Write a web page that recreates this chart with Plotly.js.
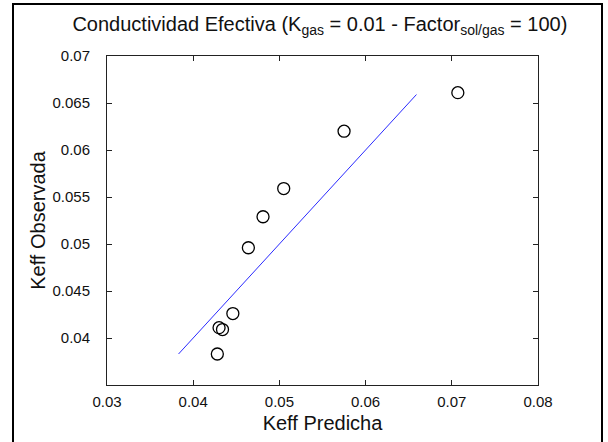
<!DOCTYPE html>
<html>
<head>
<meta charset="utf-8">
<script src="https://cdn.plot.ly/plotly-3.0.1.min.js"></script>
<style>
  html, body { margin: 0; padding: 0; background: #fff; overflow: hidden; }
  #chart { position: absolute; left: 0; top: 0; width: 608px; height: 442px; }
  #frame { position: absolute; left: 12px; top: 3px; width: 591px; height: 470px;
           border: 2px solid #000; box-sizing: border-box; pointer-events: none; }
</style>
</head>
<body>
<div id="chart"></div>
<div id="frame"></div>
<script>
// Data
const keffPredicha  = [0.0428, 0.0430, 0.0434, 0.0446, 0.0464, 0.0481, 0.0505, 0.0575, 0.0707];
const keffObservada = [0.0383, 0.0411, 0.0409, 0.0426, 0.0496, 0.0529, 0.0559, 0.0620, 0.0661];
const refLineX = [0.0383, 0.0659];
const refLineY = [0.0383, 0.0659];
const xTickVals = [0.03, 0.04, 0.05, 0.06, 0.07, 0.08];
const xTickText = ['0.03', '0.04', '0.05', '0.06', '0.07', '0.08'];
const yTickVals = [0.04, 0.045, 0.05, 0.055, 0.06, 0.065, 0.07];
const yTickText = ['0.04', '0.045', '0.05', '0.055', '0.06', '0.065', '0.07'];

const font = 'Liberation Sans, Arial, sans-serif';

const traces = [
  {
    x: refLineX, y: refLineY, mode: 'lines', type: 'scatter',
    line: { color: '#2a2aff', width: 1 }, hoverinfo: 'skip', showlegend: false
  },
  {
    x: keffPredicha, y: keffObservada, mode: 'markers', type: 'scatter',
    marker: { symbol: 'circle-open', size: 12, color: '#000', line: { width: 1.3, color: '#000' } },
    showlegend: false
  }
];

const axisCommon = {
  showgrid: false, zeroline: false, showline: true, linecolor: '#222', linewidth: 1,
  mirror: 'ticks', ticks: 'inside', ticklen: 5, tickcolor: '#222', tickwidth: 1,
  tickfont: { family: font, size: 15, color: '#111' }, tickmode: 'array', fixedrange: true
};

const layout = {
  width: 608, height: 442,
  margin: { l: 107, r: 70, t: 56, b: 57 },
  paper_bgcolor: '#fff', plot_bgcolor: '#fff',
  title: {
    text: 'Conductividad Efectiva (K<sub>gas</sub> = 0.01 - Factor<sub>sol/gas</sub> = 100)',
    font: { family: font, size: 20, color: '#111' },
    x: 0.494, xanchor: 'center', xref: 'paper', y: 0.946, yanchor: 'middle'
  },
  xaxis: Object.assign({}, axisCommon, {
    range: [0.03, 0.08], tickvals: xTickVals, ticktext: xTickText,
    ticklabelstandoff: 3,
    title: { text: 'Keff Predicha', font: { family: font, size: 20, color: '#111' }, standoff: 6 }
  }),
  yaxis: Object.assign({}, axisCommon, {
    range: [0.035, 0.07], tickvals: yTickVals, ticktext: yTickText,
    ticklabelstandoff: 13,
    title: { text: 'Keff Observada', font: { family: font, size: 20, color: '#111' }, standoff: 1 }
  })
};

Plotly.newPlot('chart', traces, layout, { staticPlot: true, displayModeBar: false });
</script>
</body>
</html>
